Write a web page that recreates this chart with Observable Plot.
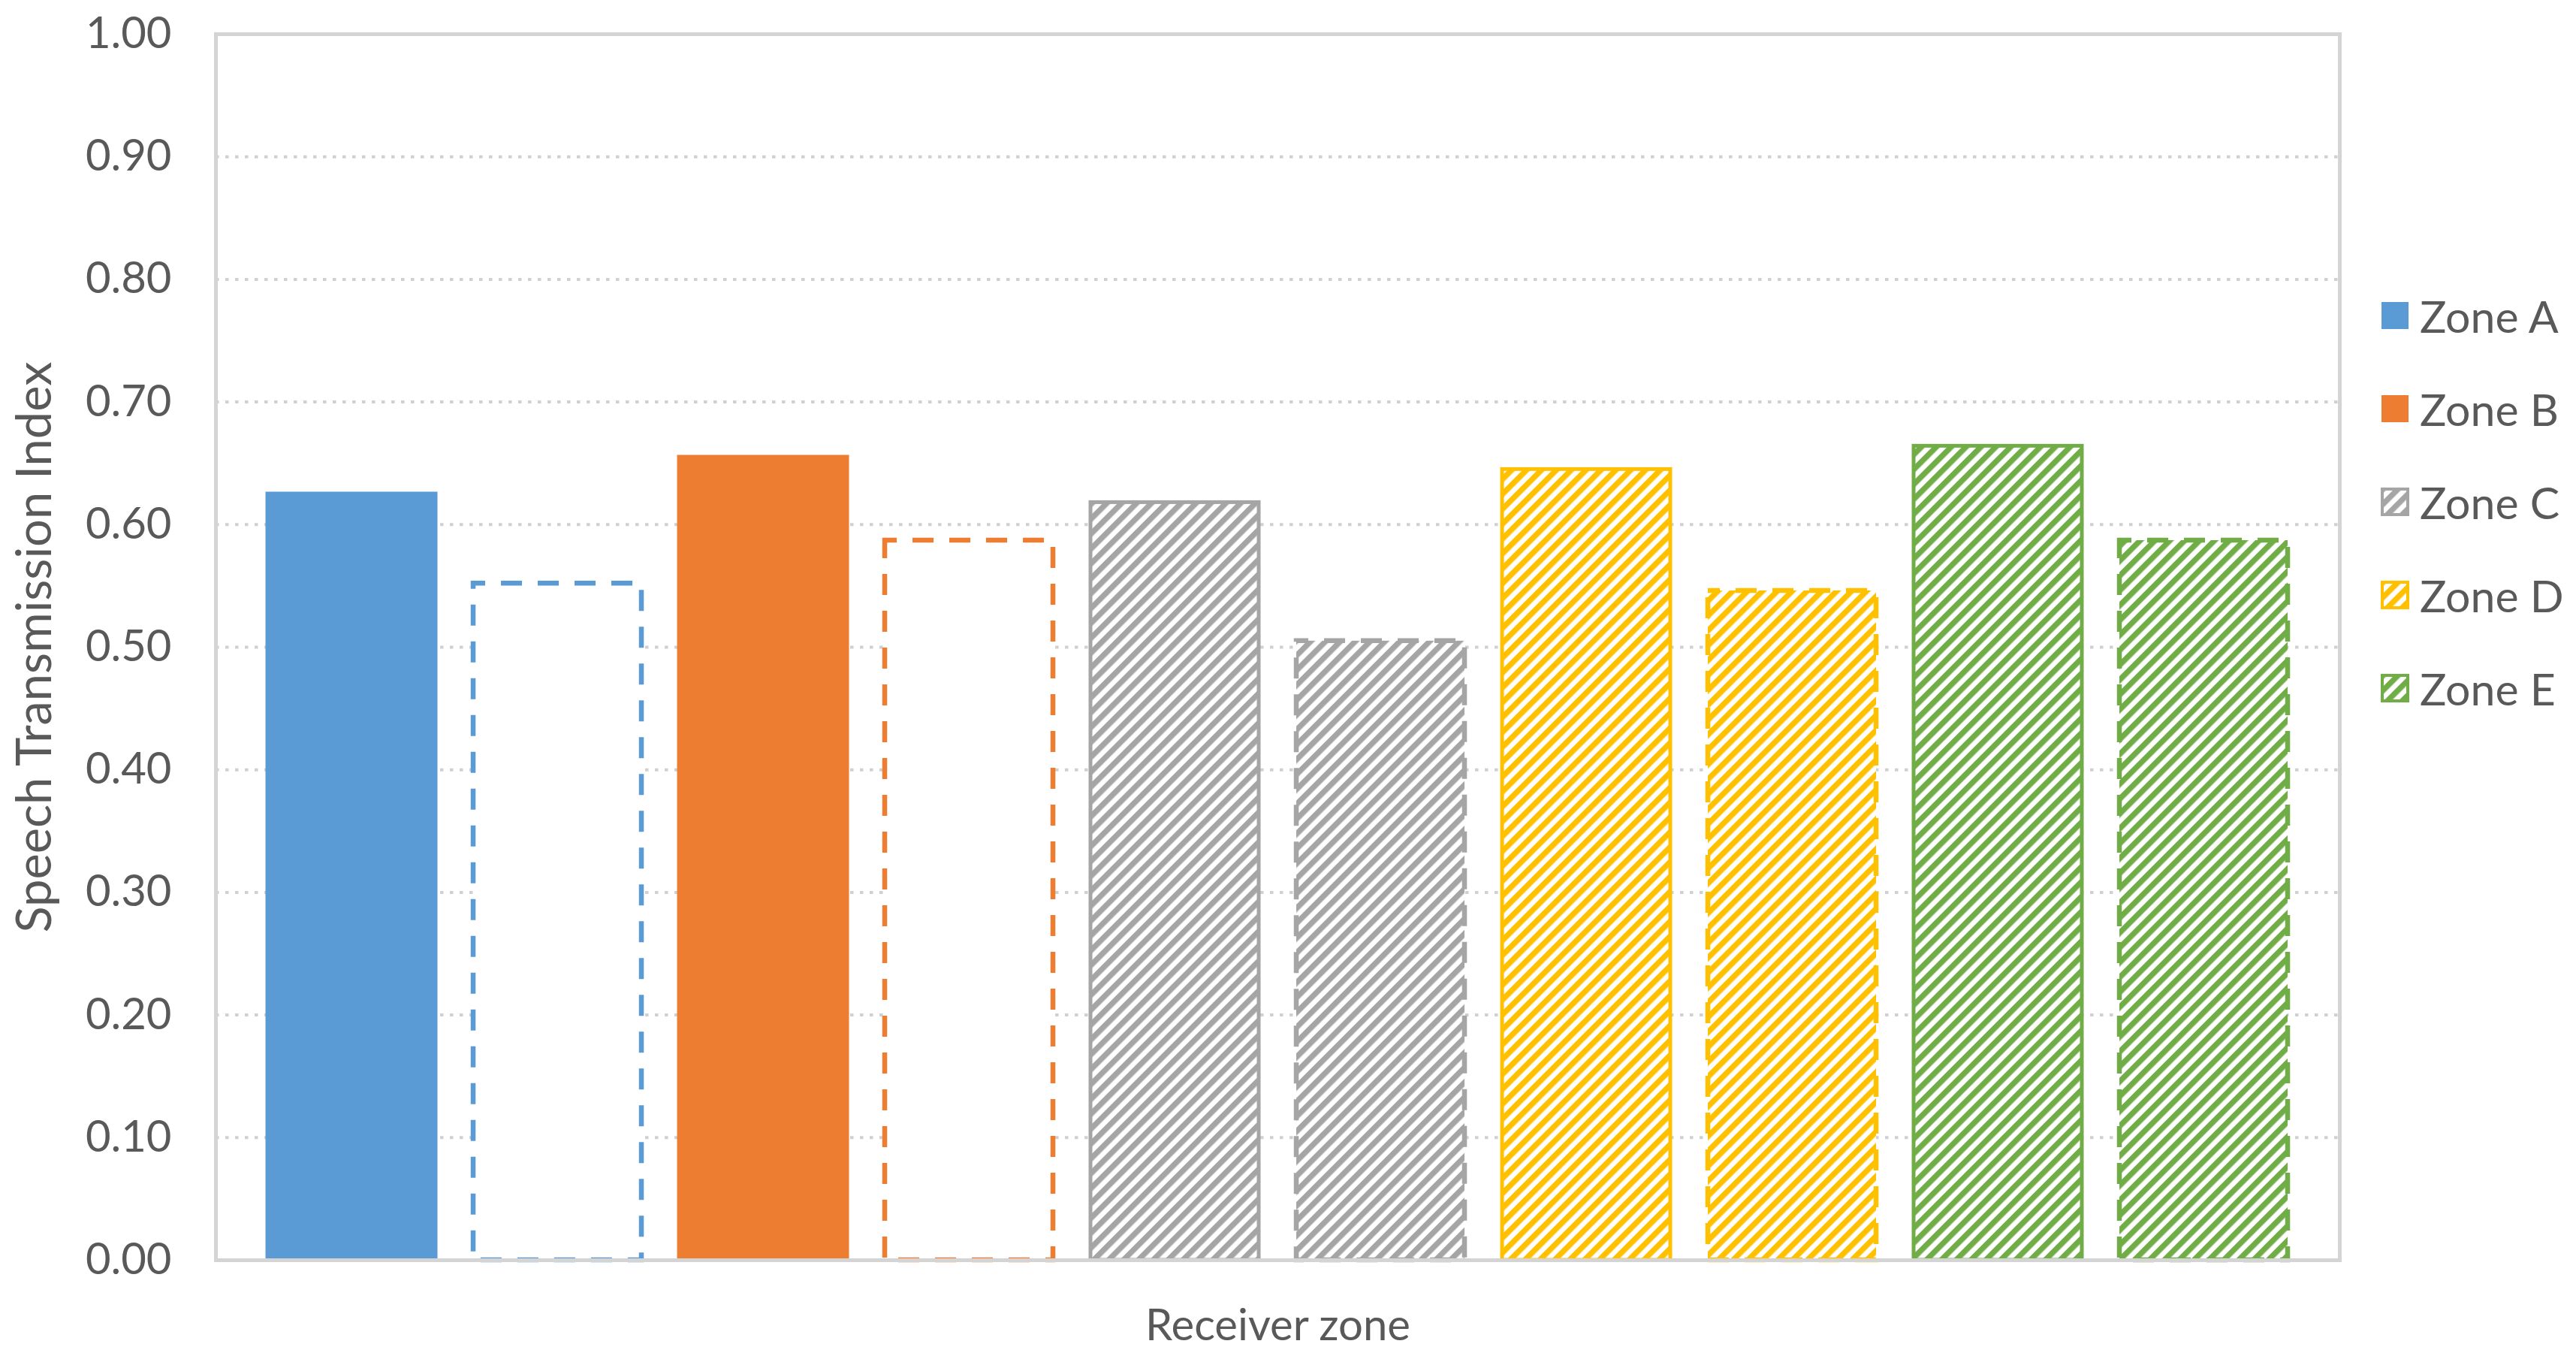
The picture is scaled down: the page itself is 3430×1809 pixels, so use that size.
<!DOCTYPE html>
<html>
<head>
<meta charset="utf-8">
<script src="https://cdn.jsdelivr.net/npm/d3@7"></script>
<script src="https://cdn.jsdelivr.net/npm/@observablehq/plot@0.6"></script>
<style>
  body { margin: 0; background: #ffffff; }
  #wrap { position: relative; width: 3430px; height: 1809px; }
  #legend { position: absolute; left: 3170px; top: 358px; font-family: Lato, sans-serif; font-size: 59px; color: #595959; }
  .row { height: 124px; display: flex; align-items: center; white-space: nowrap; }
  .row svg { margin-right: 14px; }
</style>
</head>
<body>
<svg width="0" height="0" style="position:absolute"><defs id="defs"></defs></svg>
<div id="wrap"><div id="legend"></div></div>
<script>
// ---- data ----
const zones = ["Zone A", "Zone B", "Zone C", "Zone D", "Zone E"];
const zoneColors = ["#5B9BD5", "#ED7D31", "#A5A5A5", "#FFC000", "#70AD47"];
const zoneHatched = [false, false, true, true, true];
const solidBorderValues = [0.625, 0.655, 0.618, 0.645, 0.664];
const dashedBorderValues = [0.552, 0.587, 0.505, 0.546, 0.587];
const yTicks = [0, 0.1, 0.2, 0.3, 0.4, 0.5, 0.6, 0.7, 0.8, 0.9, 1.0];
const gridTicks = [0.1, 0.2, 0.3, 0.4, 0.5, 0.6, 0.7, 0.8, 0.9];
const yLabel = "Speech Transmission Index";
const xLabel = "Receiver zone";

// ---- hatch patterns ----
const NS = "http://www.w3.org/2000/svg";
const defs = document.getElementById("defs");
zones.forEach((z, i) => {
  if (!zoneHatched[i]) return;
  const p = document.createElementNS(NS, "pattern");
  p.setAttribute("id", "hatch-" + i);
  p.setAttribute("patternUnits", "userSpaceOnUse");
  p.setAttribute("width", "14");
  p.setAttribute("height", "14");
  p.setAttribute("patternTransform", "rotate(45)");
  const bg = document.createElementNS(NS, "rect");
  bg.setAttribute("width", "14"); bg.setAttribute("height", "14"); bg.setAttribute("fill", "#ffffff");
  const st = document.createElementNS(NS, "rect");
  st.setAttribute("width", "7.5"); st.setAttribute("height", "14"); st.setAttribute("fill", zoneColors[i]);
  p.appendChild(bg); p.appendChild(st);
  defs.appendChild(p);
});

// ---- table ----
const bars = [];
zones.forEach((z, i) => {
  bars.push({key: z + " 1", zone: z, value: solidBorderValues[i], border: "solid",
    color: zoneColors[i], fill: zoneHatched[i] ? `url(#hatch-${i})` : zoneColors[i]});
  bars.push({key: z + " 2", zone: z, value: dashedBorderValues[i], border: "dashed",
    color: zoneColors[i], fill: zoneHatched[i] ? `url(#hatch-${i})` : "#ffffff"});
});
const keys = bars.map(d => d.key);

const chart = Plot.plot({
  width: 3430,
  height: 1809,
  marginLeft: 287,
  marginRight: 315,
  marginTop: 45,
  marginBottom: 132,
  style: {fontFamily: "Lato, sans-serif", fontSize: "58px", color: "#595959", background: "#ffffff"},
  x: {type: "band", domain: keys, paddingInner: 0.184, paddingOuter: 0.239},
  y: {domain: [0, 1]},
  color: {type: "identity"},
  marks: [
    Plot.gridY(gridTicks, {stroke: "#d0d0d0", strokeOpacity: 1, strokeWidth: 4, strokeDasharray: "4.5,8.5"}),
    Plot.barY(bars.filter(d => d.border === "solid"), {x: "key", y: "value", fill: "fill", stroke: "color", strokeWidth: 5, inset: 0}),
    Plot.barY(bars.filter(d => d.border === "dashed"), {x: "key", y: "value", fill: "fill", stroke: "color", strokeWidth: 6.5, strokeDasharray: "28,21", strokeDashoffset: 12, inset: 0}),
    Plot.frame({stroke: "#d4d4d4", strokeWidth: 5}),
    Plot.axisY({ticks: yTicks, tickFormat: d => d.toFixed(2), tickSize: 0, tickPadding: 59, label: null}),
    Plot.axisY({ticks: [], tickSize: 0, fontSize: 65,
      label: yLabel, labelAnchor: "center", labelOffset: 266, labelArrow: "none"}),
    Plot.axisX({ticks: [], tickSize: 0, label: xLabel, labelAnchor: "center", labelOffset: 106, labelArrow: "none"})
  ]
});
document.getElementById("wrap").insertBefore(chart, document.getElementById("legend"));

// ---- legend ----
const legend = d3.select("#legend");
zones.forEach((z, i) => {
  const row = legend.append("div").attr("class", "row");
  const s = row.append("svg").attr("width", 38).attr("height", 38);
  if (zoneHatched[i]) {
    s.append("rect").attr("x", 2).attr("y", 2).attr("width", 34).attr("height", 34)
      .attr("fill", `url(#hatch-${i})`).attr("stroke", zoneColors[i]).attr("stroke-width", 4);
  } else {
    s.append("rect").attr("x", 1).attr("y", 1).attr("width", 36).attr("height", 36).attr("fill", zoneColors[i]);
  }
  row.append("span").text(z);
});
</script>
</body>
</html>
